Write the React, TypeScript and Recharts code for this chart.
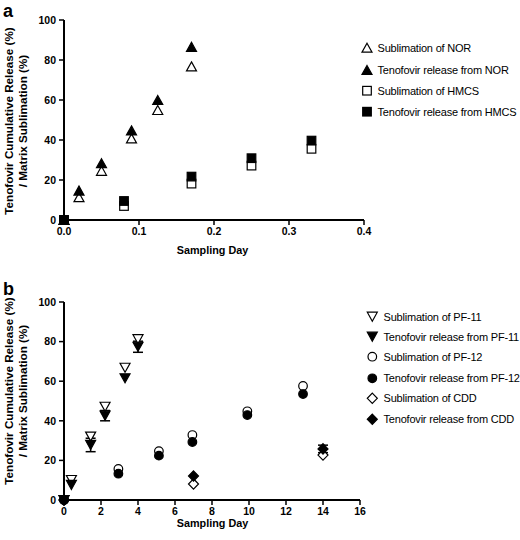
import { ScatterChart, Scatter, XAxis, YAxis, ErrorBar, Label } from 'recharts';

const FONT = '"Liberation Sans", Arial, Helvetica, sans-serif';

// panel a: sampling times (day) and percentages
const norDays = [0, 0.02, 0.05, 0.09, 0.125, 0.17];
const norSublimation = [0, 11.4, 24.6, 40.8, 55, 76.8];
const norRelease = [0, 14.7, 28.4, 44.8, 60, 86.6];
const hmcsDays = [0, 0.08, 0.17, 0.25, 0.33];
const hmcsSublimation = [0, 7, 18.2, 27.2, 35.6];
const hmcsRelease = [0, 9.5, 21.7, 30.9, 39.7];
const dayTicksA = [0, 0.1, 0.2, 0.3, 0.4];

// panel b
const pf11Days = [0, 0.4, 1.44, 2.22, 3.3, 4];
const pf11Sublimation = [0, 10.1, 32, 47.1, 66.8, 81.2];
const pf11Release = [0, 7.6, 27.8, 42.6, 61.5, 77.4];
const pf11ReleaseErr = [null, null, 3.4, 2.6, null, 2.8];
const pf12Days = [0, 2.94, 5.13, 6.94, 9.91, 12.92];
const pf12Sublimation = [0, 15.7, 24.7, 32.8, 44.8, 57.6];
const pf12Release = [0, 13.3, 22.4, 29.3, 42.9, 53.5];
const cddDays = [0, 7, 14];
const cddSublimation = [0, 8.1, 22.7];
const cddRelease = [0, 12.1, 25.8];
const cddReleaseErr = [null, null, 1.9];
const dayTicksB = [0, 2, 4, 6, 8, 10, 12, 14, 16];

const percentTicks = [0, 20, 40, 60, 80, 100];

type Kind = 'up' | 'down' | 'square' | 'circle' | 'diamond';

interface Series {
  name: string;
  kind: Kind;
  filled: boolean;
  data: { x: number; y: number; err?: number | null }[];
  hasErr?: boolean;
}

const toPoints = (days: number[], values: number[], errs?: (number | null)[]) =>
  days.map((x, i) => ({ x, y: values[i], err: errs ? errs[i] : null }));

function Marker({ kind, filled, cx, cy }: { kind: Kind; filled: boolean; cx: number; cy: number }) {
  const style = { fill: filled ? '#000' : '#fff', stroke: '#000', strokeWidth: 1.2 };
  switch (kind) {
    case 'up':
      return <polygon points={`${cx},${cy - 4.5} ${cx + 5},${cy + 4.5} ${cx - 5},${cy + 4.5}`} {...style} />;
    case 'down':
      return <polygon points={`${cx},${cy + 4.5} ${cx + 5},${cy - 4.5} ${cx - 5},${cy - 4.5}`} {...style} />;
    case 'square':
      return <rect x={cx - 4.3} y={cy - 4.3} width={8.6} height={8.6} {...style} />;
    case 'circle':
      return <circle cx={cx} cy={cy} r={4.3} {...style} />;
    default:
      return <polygon points={`${cx},${cy - 5.2} ${cx + 5},${cy} ${cx},${cy + 5.2} ${cx - 5},${cy}`} {...style} />;
  }
}

const seriesA: Series[] = [
  { name: 'Sublimation of NOR', kind: 'up', filled: false, data: toPoints(norDays, norSublimation) },
  { name: 'Tenofovir release from NOR', kind: 'up', filled: true, data: toPoints(norDays, norRelease) },
  { name: 'Sublimation of HMCS', kind: 'square', filled: false, data: toPoints(hmcsDays, hmcsSublimation) },
  { name: 'Tenofovir release from HMCS', kind: 'square', filled: true, data: toPoints(hmcsDays, hmcsRelease) },
];

const seriesB: Series[] = [
  { name: 'Sublimation of PF-11', kind: 'down', filled: false, data: toPoints(pf11Days, pf11Sublimation) },
  { name: 'Tenofovir release from PF-11', kind: 'down', filled: true, data: toPoints(pf11Days, pf11Release, pf11ReleaseErr), hasErr: true },
  { name: 'Sublimation of PF-12', kind: 'circle', filled: false, data: toPoints(pf12Days, pf12Sublimation) },
  { name: 'Tenofovir release from PF-12', kind: 'circle', filled: true, data: toPoints(pf12Days, pf12Release) },
  { name: 'Sublimation of CDD', kind: 'diamond', filled: false, data: toPoints(cddDays, cddSublimation) },
  { name: 'Tenofovir release from CDD', kind: 'diamond', filled: true, data: toPoints(cddDays, cddRelease, cddReleaseErr), hasErr: true },
];

const tickStyle = { fill: '#000', fontSize: 10.5, fontWeight: 'bold', fontFamily: FONT };

interface PanelProps {
  letter: string;
  series: Series[];
  xDomain: [number, number];
  xTicks: number[];
  decimals: number;
  margin: { top: number; right: number; bottom: number; left: number };
  xAxisHeight: number;
  xTitleY: number;
  letterY: number;
  legendRows: number[];
  legendMarkerX: number;
  legendTextX: number;
}

function Panel(props: PanelProps) {
  const { letter, series, xDomain, xTicks, decimals, margin, xAxisHeight, xTitleY, letterY, legendRows, legendMarkerX, legendTextX } = props;

  const yTitle = () => (
    <g transform="translate(13, 121) rotate(-90)" fontFamily={FONT} fontSize={11.7} fontWeight="bold" fill="#000">
      <text x={0} y={0} textAnchor="middle">Tenofovir Cumulative Release (%)</text>
      <text x={0} y={14} textAnchor="middle">/ Matrix Sublimation (%)</text>
    </g>
  );

  const xTitle = () => (
    <text x={212.5} y={xTitleY} textAnchor="middle" fontFamily={FONT} fontSize={10.8} fontWeight="bold" fill="#000">
      Sampling Day
    </text>
  );

  return (
    <div style={{ position: 'relative', width: 520, height: 270 }}>
      <ScatterChart width={520} height={270} margin={margin}>
        <XAxis
          type="number"
          dataKey="x"
          domain={xDomain}
          ticks={xTicks}
          tickFormatter={(v: number) => v.toFixed(decimals)}
          height={xAxisHeight}
          tick={tickStyle}
          tickSize={5}
          tickMargin={3}
          axisLine={{ stroke: '#000', strokeWidth: 2 }}
          tickLine={{ stroke: '#000', strokeWidth: 1.5 }}
        >
          <Label content={xTitle} />
        </XAxis>
        <YAxis
          type="number"
          dataKey="y"
          domain={[0, 100]}
          ticks={percentTicks}
          width={64}
          tick={tickStyle}
          tickSize={5}
          tickMargin={3}
          axisLine={{ stroke: '#000', strokeWidth: 2 }}
          tickLine={{ stroke: '#000', strokeWidth: 1.5 }}
        >
          <Label content={yTitle} />
        </YAxis>
        {series.map((s) => (
          <Scatter
            key={s.name}
            name={s.name}
            data={s.data}
            isAnimationActive={false}
            shape={(p: any) => <Marker kind={s.kind} filled={s.filled} cx={p.cx} cy={p.cy} />}
          >
            {s.hasErr && <ErrorBar dataKey="err" direction="y" width={5} stroke="#000" strokeWidth={1.5} />}
          </Scatter>
        ))}
      </ScatterChart>
      <svg width={520} height={270} style={{ position: 'absolute', left: 0, top: 0, pointerEvents: 'none' }}>
        <text x={3} y={letterY} fontFamily={FONT} fontSize={18} fontWeight="bold" fill="#000">
          {letter}
        </text>
        {series.map((s, i) => (
          <g key={s.name}>
            <Marker kind={s.kind} filled={s.filled} cx={legendMarkerX} cy={legendRows[i]} />
            <text
              x={legendTextX}
              y={legendRows[i]}
              dy="0.35em"
              fontFamily={FONT}
              fontSize={11}
              letterSpacing={-0.2}
              fill="#000"
            >
              {s.name}
            </text>
          </g>
        ))}
      </svg>
    </div>
  );
}

export default function App() {
  return (
    <div style={{ position: 'absolute', left: 0, top: 0, width: 520, height: 540, background: '#fff' }}>
      <Panel
        letter="a"
        series={seriesA}
        xDomain={[0, 0.4]}
        xTicks={dayTicksA}
        decimals={1}
        margin={{ top: 20, right: 156, bottom: 0, left: 0 }}
        xAxisHeight={50}
        xTitleY={254}
        letterY={16.5}
        legendRows={[47.7, 70, 90.7, 111.7]}
        legendMarkerX={367}
        legendTextX={377.5}
      />
      <Panel
        letter="b"
        series={seriesB}
        xDomain={[0, 16]}
        xTicks={dayTicksB}
        decimals={0}
        margin={{ top: 32, right: 160, bottom: 0, left: 0 }}
        xAxisHeight={40}
        xTitleY={257}
        letterY={25}
        legendRows={[46.7, 66.7, 86.7, 108.3, 128.3, 149.3]}
        legendMarkerX={372.3}
        legendTextX={383.5}
      />
    </div>
  );
}
